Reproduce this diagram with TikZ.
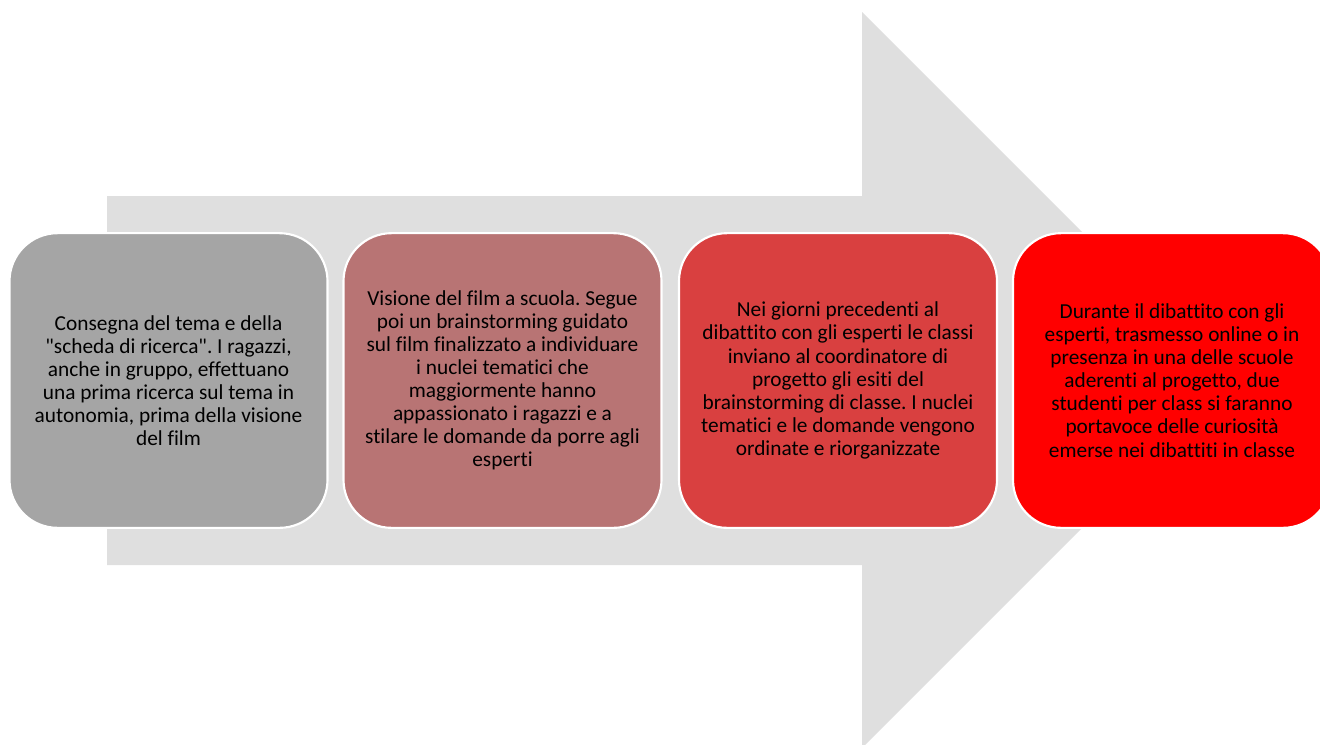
\documentclass[tikz,border=0pt]{standalone}
\usepackage{fontspec}
\setmainfont{Carlito}[Ligatures={NoCommon,TeXOff}]
\frenchspacing
\definecolor{arrowgray}{HTML}{DFDFDF}
\definecolor{cA}{HTML}{A5A5A5}
\definecolor{cB}{HTML}{B87474}
\definecolor{cC}{HTML}{D94040}
\definecolor{cD}{HTML}{FF0000}
\begin{document}
\begin{tikzpicture}[x=0.75pt,y=-0.75pt,
  stepbox/.style={draw=white, line width=1.6pt, rounded corners=36pt,
    minimum width=238.5pt, minimum height=221pt, inner sep=0pt,
    align=center, text=black,
    font=\frenchspacing\fontsize{16}{17.3}\selectfont}]
\useasboundingbox (0,0) rectangle (1320,744);
\clip (0,0) rectangle (1320,744);
\fill[arrowgray] (107,196) -- (862,196) -- (862,12) -- (1230,380) -- (862,748) -- (862,565) -- (107,565) -- cycle;
\node[stepbox, fill=cA] (s1) at (168.5,380.5) {Consegna del tema e della\\"scheda di ricerca". I ragazzi,\\anche in gruppo, effettuano\\una prima ricerca sul tema in\\autonomia, prima della visione\\del film};
\node[stepbox, fill=cB] (s2) at (502.5,380.5) {Visione del film a scuola. Segue\\poi un brainstorming guidato\\sul film finalizzato a individuare\\i nuclei tematici che\\maggiormente hanno\\appassionato i ragazzi e a\\stilare le domande da porre agli\\esperti};
\node[stepbox, fill=cC] (s3) at (838,380.5) {Nei giorni precedenti al\\dibattito con gli esperti le classi\\inviano al coordinatore di\\progetto gli esiti del\\brainstorming di classe. I nuclei\\tematici e le domande vengono\\ordinate e riorganizzate};
\node[stepbox, fill=cD] (s4) at (1172,380.5) {Durante il dibattito con gli\\esperti, trasmesso online o in\\presenza in una delle scuole\\aderenti al progetto, due\\studenti per class si faranno\\portavoce delle curiosità\\emerse nei dibattiti in classe};
\end{tikzpicture}
\end{document}
